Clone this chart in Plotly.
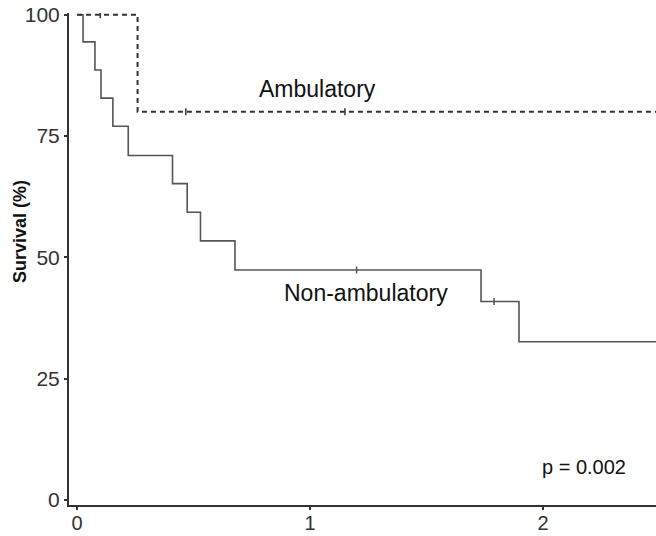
import plotly.graph_objects as go

# Non-ambulatory Kaplan-Meier steps
non_amb_time = [0, 0.026, 0.077, 0.103, 0.154, 0.22, 0.41, 0.473, 0.53, 0.678, 1.734, 1.897, 2.49]
non_amb_surv = [100, 94.4, 88.6, 82.8, 77.0, 71.0, 65.2, 59.3, 53.4, 47.4, 40.9, 32.6, 32.6]
non_amb_cens_time = [1.2, 1.79]
non_amb_cens_surv = [47.4, 40.9]

# Ambulatory Kaplan-Meier steps
amb_time = [0, 0.26, 2.49]
amb_surv = [100, 80, 80]
amb_cens_time = [0.1, 0.467, 1.15]
amb_cens_surv = [100, 80, 80]

x_ticks = [0, 1, 2]
y_ticks = [0, 25, 50, 75, 100]

FONT = "Liberation Sans, Arial, sans-serif"

fig = go.Figure()
fig.add_trace(go.Scatter(x=non_amb_time, y=non_amb_surv, mode="lines",
                         line=dict(shape="hv", color="#555555", width=1.6),
                         showlegend=False, cliponaxis=False))
fig.add_trace(go.Scatter(x=non_amb_cens_time, y=non_amb_cens_surv, mode="markers",
                         marker=dict(symbol="line-ns-open", size=5, color="#555555",
                                     line=dict(width=1.5, color="#555555")),
                         showlegend=False))
fig.add_trace(go.Scatter(x=amb_time, y=amb_surv, mode="lines",
                         line=dict(shape="hv", color="#333333", width=2, dash="5px,4px"),
                         showlegend=False, cliponaxis=False))
fig.add_trace(go.Scatter(x=amb_cens_time, y=amb_cens_surv, mode="markers",
                         marker=dict(symbol="line-ns-open", size=5, color="#333333",
                                     line=dict(width=1.5, color="#333333")),
                         showlegend=False))

fig.add_annotation(x=1.034, y=84.7, text="Ambulatory", showarrow=False,
                   font=dict(family=FONT, size=23, color="#111111"))
fig.add_annotation(x=1.24, y=42.6, text="Non-ambulatory", showarrow=False,
                   font=dict(family=FONT, size=23, color="#111111"))
fig.add_annotation(x=2.176, y=6.8, text="p = 0.002", showarrow=False,
                   font=dict(family=FONT, size=20, color="#111111"))
fig.add_annotation(xref="paper", yref="paper", x=-0.0835, y=0.557, xanchor="center", yanchor="middle",
                   text="<b>Survival (%)</b>", textangle=-90, showarrow=False,
                   font=dict(family=FONT, size=18, color="#111111"))

fig.update_xaxes(range=[-0.0343, 2.485], tickvals=x_ticks, ticktext=[str(v) for v in x_ticks],
                 showline=True, linecolor="#333333", linewidth=2, ticks="outside", ticklen=3,
                 tickcolor="#333333", tickwidth=2, showgrid=False, zeroline=False, automargin=False,
                 ticklabelstandoff=-4,
                 tickfont=dict(family=FONT, size=20, color="#333333"))
fig.update_yaxes(range=[-1.03, 100.35], tickvals=y_ticks, ticktext=[str(v) for v in y_ticks],
                 showline=True, linecolor="#333333", linewidth=2, ticks="outside", ticklen=3,
                 tickcolor="#333333", tickwidth=2, showgrid=False, zeroline=False, automargin=False,
                 tickfont=dict(family=FONT, size=21, color="#333333"))

fig.update_layout(width=656, height=536, margin=dict(l=69, r=0, t=13, b=31),
                  plot_bgcolor="white", paper_bgcolor="white")

fig.write_html("out.html")
